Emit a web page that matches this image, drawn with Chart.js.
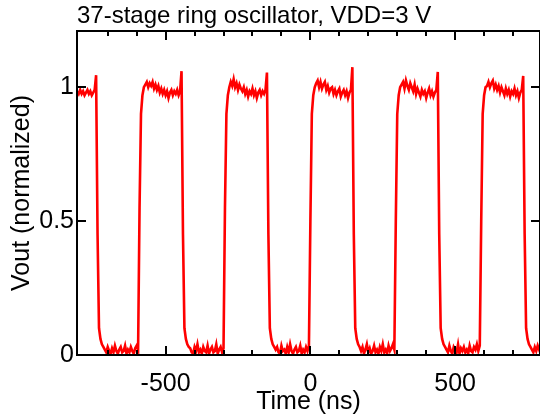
<!DOCTYPE html>
<html>
<head>
<meta charset="utf-8">
<script src="https://cdn.jsdelivr.net/npm/chart.js@4"></script>
<style>
  html, body { margin: 0; padding: 0; background: #fff; }
  #wrap { width: 540px; height: 419px; }
</style>
</head>
<body>
<div id="wrap"><canvas id="scope" width="540" height="419"></canvas></div>
<script>
// scope trace, sampled every 5 ns starting at -805 ns
const sampleStart = -805;
const sampleStep = 5;
const vout = [
  // high
  0.985, 0.975, 0.99, 0.975, 0.985, 0.97, 0.98, 0.99, 0.975, 0.985, 0.97, 0.98, 0.99,
  1.045, 0.45, 0.1, 0.06, 0.04, 0.03,
  // low
  0.02, 0.01, 0.03, 0.015, 0.005, 0.025, 0.01, 0.035, 0.015, 0.005, 0.02, 0.03,
  0.01, 0.015, 0.035, 0.005, 0.02, 0.01, 0.03, 0.015, 0.005, 0.025, 0.035, 0.02,
  0.55, 0.9, 0.97, 1.0,
  // high
  1.01, 1.02, 1.0, 1.015, 1.005, 1.02, 0.995, 1.01, 0.99, 1.005, 0.98, 0.995, 0.975,
  0.99, 0.97, 0.985, 0.96, 0.98, 0.99, 0.97, 0.985, 0.975, 0.99, 0.97, 0.985,
  1.06, 0.45, 0.1, 0.06, 0.04, 0.03,
  // low
  0.025, 0.01, 0.005, 0.03, 0.015, 0.04, 0.01, 0.02, 0.005, 0.03, 0.015, 0.01,
  0.035, 0.005, 0.02, 0.03, 0.01, 0.015, 0.04, 0.005, 0.02, 0.03, 0.01, 0.025,
  0.55, 0.9, 0.97, 1.0,
  // high
  1.02, 1.005, 1.03, 1.0, 1.015, 0.99, 1.01, 0.995, 0.985, 1.0, 0.975, 0.99, 0.965,
  0.985, 0.975, 0.995, 0.97, 0.985, 0.96, 0.98, 0.99, 0.97, 0.985, 0.975, 0.99,
  1.055, 0.45, 0.1, 0.06, 0.04, 0.03,
  // low
  0.02, 0.03, 0.01, 0.005, 0.035, 0.015, 0.02, 0.005, 0.03, 0.01, 0.04, 0.015,
  0.005, 0.02, 0.03, 0.01, 0.015, 0.035, 0.005, 0.02, 0.01, 0.03, 0.015, 0.035,
  0.5, 0.9, 0.97, 1.0,
  // high
  1.015, 1.025, 1.0, 1.02, 0.995, 1.01, 1.02, 0.99, 1.005, 0.98, 0.995, 1.0, 0.975,
  0.99, 0.97, 0.985, 0.995, 0.965, 0.98, 0.99, 0.97, 0.985, 0.96, 0.98, 0.99,
  1.075, 0.45, 0.1, 0.06, 0.04, 0.03,
  // low
  0.015, 0.03, 0.005, 0.02, 0.04, 0.01, 0.025, 0.005, 0.015, 0.035, 0.01, 0.02,
  0.005, 0.03, 0.015, 0.04, 0.01, 0.02, 0.005, 0.035, 0.015, 0.025, 0.04, 0.02,
  0.5, 0.9, 0.97, 1.0,
  // high
  1.01, 1.02, 0.995, 1.025, 1.005, 0.99, 1.015, 1.0, 0.985, 1.01, 0.975, 0.995, 0.98,
  0.965, 0.99, 0.975, 0.985, 0.96, 0.98, 0.995, 0.97, 0.985, 0.965, 0.98, 0.99,
  1.057, 0.45, 0.1, 0.06, 0.04, 0.03,
  // low
  0.02, 0.01, 0.035, 0.015, 0.005, 0.03, 0.02, 0.01, 0.04, 0.005, 0.025, 0.015,
  0.03, 0.01, 0.02, 0.005, 0.035, 0.015, 0.01, 0.03, 0.02, 0.04, 0.015, 0.035,
  0.5, 0.9, 0.97, 1.0,
  // high
  1.005, 1.02, 1.0, 1.015, 1.025, 0.995, 1.01, 0.99, 1.005, 0.98, 1.0, 0.985, 0.97,
  0.995, 0.975, 0.99, 0.965, 0.985, 0.975, 0.995, 0.97, 0.985, 0.96, 0.98, 0.99,
  1.042, 0.45, 0.1, 0.06, 0.04, 0.03,
  // low
  0.02, 0.01, 0.03, 0.015, 0.035, 0.02, 0.03
];

const xMin = -806, xMax = 793;
const yMin = 0, yMax = 1.21;
const xLabelTicks = [-500, 0, 500];
const xMinorTicks = [-700, -600, -400, -300, -200, -100, 100, 200, 300, 400, 600, 700];
const yLabelTicks = [0, 0.5, 1];

const points = vout.map((v, i) => ({ x: sampleStart + i * sampleStep, y: v }));

const fontFam = "'Liberation Sans', Arial, sans-serif";

// box around the plot + inward tick marks on all four sides
const frameTicks = {
  id: 'frameTicks',
  afterDraw(chart) {
    const { ctx, chartArea: a, scales: { x, y } } = chart;
    ctx.save();
    ctx.strokeStyle = '#000';
    ctx.lineWidth = 2;
    ctx.strokeRect(a.left, a.top, a.right - a.left, a.bottom - a.top);
    function xTick(v, len) {
      const px = Math.round(x.getPixelForValue(v));
      ctx.beginPath();
      ctx.moveTo(px, a.bottom); ctx.lineTo(px, a.bottom - len);
      ctx.moveTo(px, a.top); ctx.lineTo(px, a.top + len);
      ctx.stroke();
    }
    xLabelTicks.forEach(v => xTick(v, 9));
    xMinorTicks.forEach(v => xTick(v, 5));
    yLabelTicks.forEach(v => {
      const py = Math.round(y.getPixelForValue(v));
      ctx.beginPath();
      ctx.moveTo(a.left, py); ctx.lineTo(a.left + 9, py);
      ctx.moveTo(a.right, py); ctx.lineTo(a.right - 9, py);
      ctx.stroke();
    });
    ctx.restore();
  }
};

new Chart(document.getElementById('scope'), {
  type: 'line',
  data: {
    datasets: [{
      data: points,
      borderColor: '#ff0000',
      borderWidth: 2.6,
      pointRadius: 0,
      tension: 0
    }]
  },
  options: {
    responsive: false,
    animation: false,
    layout: { padding: 0 },
    plugins: {
      legend: { display: false },
      tooltip: { enabled: false },
      title: {
        display: true,
        text: '37-stage ring oscillator, VDD=3 V',
        align: 'start',
        fullSize: false,
        color: '#000',
        font: { family: fontFam, size: 24, weight: 'normal' },
        padding: { top: 1.6, bottom: 0.6 }
      }
    },
    scales: {
      x: {
        type: 'linear',
        min: xMin,
        max: xMax,
        afterBuildTicks: s => { s.ticks = xLabelTicks.map(v => ({ value: v })); },
        afterFit: s => { s.height = 64; },
        grid: { display: false, drawTicks: false },
        border: { display: false },
        ticks: {
          color: '#000',
          padding: 14,
          font: { family: fontFam, size: 25 },
          callback: v => String(v)
        },
        title: {
          display: true,
          text: 'Time (ns)',
          color: '#000',
          font: { family: fontFam, size: 25 },
          padding: { top: 0, bottom: 2 }
        }
      },
      y: {
        min: yMin,
        max: yMax,
        afterBuildTicks: s => { s.ticks = yLabelTicks.map(v => ({ value: v })); },
        afterFit: s => { s.width = 77; },
        grid: { display: false, drawTicks: false },
        border: { display: false },
        ticks: {
          color: '#000',
          padding: 3,
          font: { family: fontFam, size: 25 },
          callback: v => String(v)
        },
        title: {
          display: true,
          text: 'Vout (normalized)',
          color: '#000',
          font: { family: fontFam, size: 25 },
          padding: { top: 7, bottom: 0 }
        }
      }
    }
  },
  plugins: [frameTicks]
});
</script>
</body>
</html>
